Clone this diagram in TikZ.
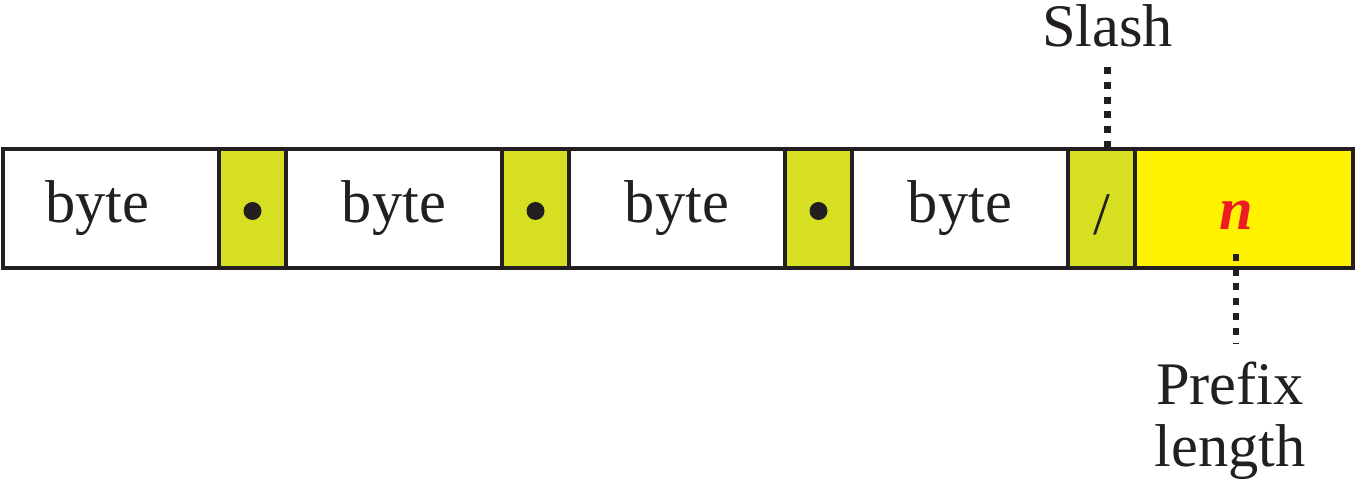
\documentclass[tikz,border=0pt]{standalone}
\usepackage{fontspec}
\setmainfont{Liberation Serif}
\newfontfamily\ipserif{Liberation Serif}
\usetikzlibrary{positioning}
\definecolor{ipink}{HTML}{231F20}
\definecolor{ipdot}{HTML}{D7DF23}
\definecolor{ipyellow}{HTML}{FFF200}
\definecolor{ipred}{HTML}{ED1C24}
\tikzset{
  field/.style   ={draw=ipink, line width=1.2pt, minimum height=1.19cm,
                   inner sep=0pt, outer sep=0pt, text=ipink,
                   font=\ipserif\fontsize{17.2}{18}\selectfont},
  bytecell/.style={field, fill=white, minimum width=2.16cm},
  sepcell/.style ={field, fill=ipdot, minimum width=0.67cm},
  lencell/.style ={field, fill=ipyellow, minimum width=2.18cm},
  lenlabel/.style={inner sep=0pt, text=ipred,
                   font=\ipserif\fontsize{17.2}{18}\selectfont\bfseries\itshape},
  note/.style    ={inner sep=0pt, align=center, text=ipink,
                   font=\ipserif\fontsize{17.2}{17.6}\selectfont},
  callout/.style ={draw=ipink, line width=1.8pt, dash pattern=on 2pt off 2.2pt},
}

\begin{document}
\begin{tikzpicture}
  \useasboundingbox (0,0) rectangle (13.58,4.8);

  % address fields
  \node[bytecell, anchor=west] (b1) at (0.03,2.715) {\hspace*{-0.27cm}byte};
  \node[sepcell, right=0pt of b1] (d1) {};
  \node[bytecell, right=0pt of d1] (b2) {byte};
  \node[sepcell, right=0pt of b2] (d2) {};
  \node[bytecell, right=0pt of d2] (b3) {byte};
  \node[sepcell, right=0pt of b3] (d3) {};
  \node[bytecell, right=0pt of d3] (b4) {byte};
  \node[sepcell, right=0pt of b4, text height=0.52cm, text depth=0pt] (s) {/};
  \node[lencell, right=0pt of s] (p) {};

  % dots between the bytes
  \foreach \d in {d1,d2,d3} {
    \fill[ipink] ([yshift=-0.025cm]\d.center) circle (0.09cm);
  }

  % prefix length
  \node[lenlabel] (nlbl) at ([xshift=-0.08cm,yshift=-0.065cm]p.center) {n};

  % callouts
  \node[note, above=1.01cm of s, xshift=0.06cm] (slashlbl) {Slash};
  \node[note, below=1.31cm of nlbl, xshift=-0.06cm] (plen) {Prefix\\length};
  \coordinate (plentop) at ([yshift=0.17cm]plen.north);
  \draw[callout] ([yshift=-0.19cm]slashlbl.south) -- (slashlbl.south |- s.north);
  \draw[callout] ([yshift=-0.24cm]nlbl.south) -- (nlbl.south |- plentop);
\end{tikzpicture}
\end{document}
